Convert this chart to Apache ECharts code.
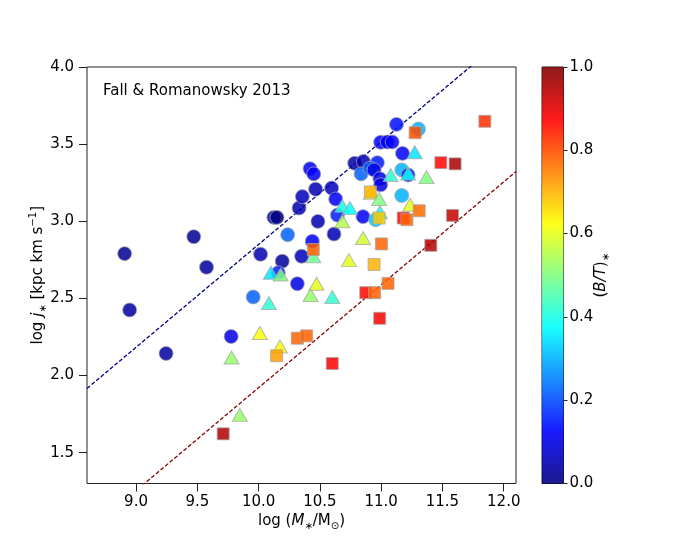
<!DOCTYPE html>
<html><head><meta charset="utf-8">
<script src="https://cdn.jsdelivr.net/npm/echarts@6/dist/echarts.min.js"></script>
<style>html,body{margin:0;padding:0;background:#fff}#c{width:692px;height:554px}</style>
</head><body><div id="c"></div>
<script>
// tick labels
const xTicks = [9.0, 9.5, 10.0, 10.5, 11.0, 11.5, 12.0];
const yTicks = [1.5, 2.0, 2.5, 3.0, 3.5, 4.0];
const cbTicks = [0.0, 0.2, 0.4, 0.6, 0.8, 1.0];
// [log M*, log j*, B/T]
const circles = [
  [8.907, 2.790, 0.02], [8.948, 2.425, 0.03], [9.245, 2.143, 0.03], [9.471, 2.900, 0.02],
  [9.575, 2.702, 0.03], [9.776, 2.253, 0.10], [9.956, 2.509, 0.22], [10.016, 2.786, 0.05],
  [10.193, 2.741, 0.03], [10.125, 3.025, 0.04], [10.150, 3.025, 0.00], [10.237, 2.913, 0.22],
  [10.351, 2.773, 0.06], [10.316, 2.595, 0.10], [10.330, 3.086, 0.05], [10.357, 3.160, 0.06],
  [10.420, 3.340, 0.12], [10.450, 3.307, 0.12], [10.465, 3.208, 0.05], [10.438, 2.870, 0.12],
  [10.484, 2.999, 0.05], [10.596, 3.215, 0.06], [10.615, 2.917, 0.05], [10.629, 3.144, 0.12],
  [10.643, 3.040, 0.15], [10.784, 3.376, 0.04], [10.855, 3.387, 0.05], [10.969, 3.380, 0.15],
  [10.836, 3.307, 0.22], [10.910, 3.344, 0.22], [10.942, 3.333, 0.10], [10.990, 3.275, 0.10],
  [10.996, 3.236, 0.10], [10.852, 3.030, 0.12], [10.955, 3.010, 0.32], [10.996, 3.512, 0.12],
  [11.050, 3.514, 0.12], [11.090, 3.514, 0.12], [11.125, 3.628, 0.14], [11.174, 3.440, 0.12],
  [11.168, 3.333, 0.30], [11.220, 3.300, 0.15], [11.168, 3.167, 0.30], [11.304, 3.598, 0.30],
  [10.160, 2.666, 0.15]
];
const triangles = [
  [9.779, 2.117, 0.52], [9.847, 1.745, 0.52], [10.010, 2.276, 0.62], [10.084, 2.470, 0.42],
  [10.100, 2.666, 0.35], [10.180, 2.655, 0.50], [10.174, 2.188, 0.63], [10.424, 2.522, 0.52],
  [10.473, 2.595, 0.60], [10.446, 2.773, 0.48], [10.601, 2.509, 0.42], [10.683, 3.100, 0.40],
  [10.745, 3.086, 0.38], [10.683, 3.000, 0.55], [10.737, 2.748, 0.60], [10.852, 2.892, 0.58],
  [10.915, 3.185, 0.62], [10.983, 3.144, 0.50], [10.990, 3.058, 0.38], [11.078, 3.300, 0.42],
  [11.220, 3.310, 0.38], [11.274, 3.447, 0.35], [11.370, 3.286, 0.50], [11.236, 3.107, 0.60]
];
const squares = [
  [9.711, 1.622, 0.95], [10.147, 2.128, 0.72], [10.316, 2.242, 0.78], [10.392, 2.257, 0.78],
  [10.446, 2.817, 0.78], [10.601, 2.078, 0.88], [10.874, 2.537, 0.87], [10.947, 2.537, 0.78],
  [10.988, 2.371, 0.88], [11.056, 2.597, 0.78], [10.942, 2.720, 0.70], [11.002, 2.853, 0.78],
  [10.912, 3.190, 0.70], [10.983, 3.021, 0.68], [11.180, 3.021, 0.87], [11.210, 3.010, 0.78],
  [11.310, 3.068, 0.77], [11.277, 3.574, 0.80], [11.405, 2.844, 0.95], [11.582, 3.038, 0.93],
  [11.603, 3.372, 0.96], [11.487, 3.380, 0.87], [11.846, 3.648, 0.83]
];
// reference relations (endpoints in data units)
const diskLine = [[8.6, 1.916], [12.1, 4.250]];
const bulgeLine = [[8.6, 0.987], [12.1, 3.322]];

function clamp(v){return Math.max(0, Math.min(1, v));}
function jet(v){
  const r = clamp(1.5 - Math.abs(4*v - 3));
  const g = clamp(1.5 - Math.abs(4*v - 2));
  const b = clamp(1.5 - Math.abs(4*v - 1));
  return 'rgb(' + Math.round(r*255) + ',' + Math.round(g*255) + ',' + Math.round(b*255) + ')';
}
const stops = [];
for (let i = 0; i <= 40; i++) { const v = 1 - i/40; stops.push({offset: i/40, color: jet(v)}); }

const FONT = 'DejaVu Sans';
const markerStyle = {
  color: p => jet(p.value[2]),
  opacity: 0.85,
  borderColor: 'rgba(165,165,165,0.9)',
  borderWidth: 1
};
const richBase = {
  n: {fontFamily: FONT, fontSize: 15, color: '#000', lineHeight: 20},
  i: {fontFamily: FONT, fontSize: 15, fontStyle: 'italic', color: '#000', lineHeight: 20},
  sub: {fontFamily: FONT, fontSize: 10, color: '#000', lineHeight: 20, verticalAlign: 'bottom', padding: [0,0,0,0]},
  sup: {fontFamily: FONT, fontSize: 10, color: '#000', lineHeight: 10, verticalAlign: 'top'}
};

const chart = echarts.init(document.getElementById('c'), null, {renderer: 'canvas'});
chart.setOption({
  animation: false,
  backgroundColor: '#fff',
  title: {
    text: 'Fall & Romanowsky 2013', left: 98, top: 79,
    textStyle: {fontFamily: FONT, fontSize: 15, fontWeight: 'normal', color: '#000'}
  },
  grid: [
    {left: 87, top: 67, width: 429, height: 416.5, show: true, borderColor: '#222', borderWidth: 1, containLabel: false},
    {left: 542, top: 67, width: 21.5, height: 416.5, show: true, borderColor: '#222', borderWidth: 1, containLabel: false}
  ],
  xAxis: [
    {
      type: 'value', gridIndex: 0, min: 8.6, max: 12.1,
      axisLine: {show: false}, splitLine: {show: false},
      axisTick: {show: true, length: 8, lineStyle: {color: '#222'}, customValues: xTicks},
      axisLabel: {customValues: xTicks, formatter: v => v.toFixed(1), margin: 11,
        fontFamily: FONT, fontSize: 15, color: '#000'},
      name: '{n|log (}{i|M}{sub|∗}{n|/M}{sub|⊙}{n|)}', nameLocation: 'middle', nameGap: 28,
      nameMoveOverlap: false,
      nameTextStyle: {rich: richBase}
    },
    {type: 'category', gridIndex: 1, data: ['cb'], show: false}
  ],
  yAxis: [
    {
      type: 'value', gridIndex: 0, min: 1.3, max: 4.0,
      axisLine: {show: false}, splitLine: {show: false},
      axisTick: {show: true, length: 8, lineStyle: {color: '#222'}, customValues: yTicks},
      axisLabel: {customValues: yTicks, formatter: v => v.toFixed(1), margin: 13,
        fontFamily: FONT, fontSize: 15, color: '#000'},
      name: '{n|log }{i|j}{sub|∗}{n| [kpc km s}{sup|−1}{n|]}', nameLocation: 'middle', nameGap: 39, nameRotate: 90,
      nameMoveOverlap: false,
      nameTextStyle: {rich: richBase}
    },
    {
      type: 'value', gridIndex: 1, min: 0, max: 1, position: 'right',
      axisLine: {show: false}, splitLine: {show: false},
      axisTick: {show: true, length: 4, lineStyle: {color: '#222'}, customValues: cbTicks},
      axisLabel: {customValues: cbTicks, formatter: v => v.toFixed(1), margin: 6,
        fontFamily: FONT, fontSize: 15, color: '#000'},
      name: '{n|(}{i|B/T}{n|)}{sub|∗}', nameLocation: 'middle', nameGap: 28, nameRotate: 90,
      nameMoveOverlap: false,
      nameTextStyle: {rich: richBase}
    }
  ],
  series: [
    {type: 'line', xAxisIndex: 0, yAxisIndex: 0, data: diskLine, symbol: 'none', clip: true, z: 1,
      lineStyle: {color: '#00008b', width: 1.3, type: [4, 2]}},
    {type: 'line', xAxisIndex: 0, yAxisIndex: 0, data: bulgeLine, symbol: 'none', clip: true, z: 1,
      lineStyle: {color: '#8b0000', width: 1.3, type: [4, 2]}},
    {type: 'scatter', xAxisIndex: 0, yAxisIndex: 0, data: circles, symbol: 'circle', symbolSize: 14, z: 2,
      itemStyle: markerStyle},
    {type: 'scatter', xAxisIndex: 0, yAxisIndex: 0, data: triangles, symbol: 'triangle', symbolSize: [15, 13], z: 3,
      itemStyle: markerStyle},
    {type: 'scatter', xAxisIndex: 0, yAxisIndex: 0, data: squares, symbol: 'rect', symbolSize: 12, z: 4,
      itemStyle: markerStyle},
    {type: 'bar', xAxisIndex: 1, yAxisIndex: 1, data: [1.0], barWidth: '100%', silent: true,
      itemStyle: {opacity: 0.9, color: new echarts.graphic.LinearGradient(0, 0, 0, 1, stops)}}
  ]
});
</script>
</body></html>
